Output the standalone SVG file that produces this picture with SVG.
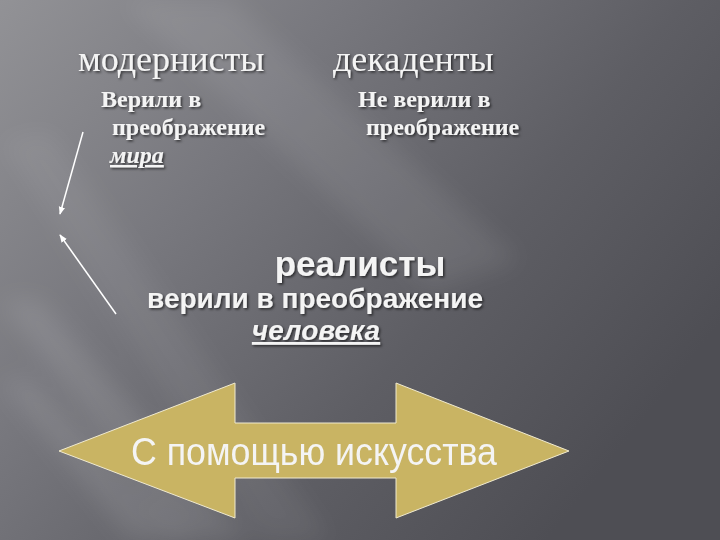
<svg xmlns="http://www.w3.org/2000/svg" width="720" height="540" viewBox="0 0 720 540">
<defs>
<linearGradient id="bg" x1="0" y1="0" x2="1" y2="0.6">
<stop offset="0" stop-color="#929296"/>
<stop offset="0.35" stop-color="#78787e"/>
<stop offset="0.7" stop-color="#5e5e64"/>
<stop offset="1" stop-color="#4e4e54"/>
</linearGradient>
<filter id="blur"><feGaussianBlur stdDeviation="12"/></filter>
<filter id="sh" x="-10%" y="-30%" width="120%" height="160%">
<feDropShadow dx="1.5" dy="1.5" stdDeviation="0.8" flood-color="#000" flood-opacity="0.6"/>
</filter>
<marker id="ah" viewBox="0 0 10 10" refX="9" refY="5" markerWidth="8" markerHeight="8" orient="auto" markerUnits="userSpaceOnUse">
<path d="M0,1 L10,5 L0,9 z" fill="#ffffff"/>
</marker>
<style>
.serif{font-family:"Liberation Serif","Times New Roman",serif;fill:#f4f4f4;}
.sans{font-family:"Liberation Sans",Arial,sans-serif;fill:#f4f4f4;}
.h{font-size:36px;}
.b{font-size:24px;font-weight:bold;}
.conn{stroke:#ffffff;stroke-width:1.5;fill:none;marker-end:url(#ah);}
</style>
</defs>
<rect width="720" height="540" fill="url(#bg)"/>
<g filter="url(#blur)">
<polygon points="120,0 230,0 520,260 430,290" fill="#ffffff" opacity="0.08"/>
<polygon points="0,300 40,300 250,540 180,540" fill="#ffffff" opacity="0.1"/>
<polygon points="0,380 30,380 190,540 130,540" fill="#ffffff" opacity="0.1"/>
<polygon points="0,140 50,130 330,540 260,540" fill="#ffffff" opacity="0.06"/>
</g>
<g id="modernists" filter="url(#sh)">
<text class="serif h" x="78" y="71">модернисты</text>
<text class="serif b" x="101" y="107">Верили в</text>
<text class="serif b" x="112" y="135">преображение</text>
<text class="serif b" x="110" y="163" font-style="italic" text-decoration="underline">мира</text>
</g>
<g id="decadents" filter="url(#sh)">
<text class="serif h" x="333" y="71">декаденты</text>
<text class="serif b" x="358" y="107">Не верили в</text>
<text class="serif b" x="366" y="135">преображение</text>
</g>
<g id="realists" filter="url(#sh)">
<text class="sans" x="360" y="276" text-anchor="middle" font-size="35" font-weight="bold">реалисты</text>
<text class="sans" x="315" y="308" text-anchor="middle" font-size="28" font-weight="bold">верили в преображение</text>
<text class="sans" x="316" y="340" text-anchor="middle" font-size="28" font-weight="bold" font-style="italic" text-decoration="underline">человека</text>
</g>
<g id="connectors">
<line class="conn" x1="83" y1="132" x2="60" y2="214"/>
<line class="conn" x1="116" y1="314" x2="60" y2="235"/>
</g>
<g id="art">
<polygon points="59,451 235,383 235,423 396,423 396,383 569,451 396,518 396,478 235,478 235,518" fill="#c9b463" stroke="#f0ead0" stroke-width="1"/>
<text class="sans" x="131" y="465" font-size="38" textLength="366" lengthAdjust="spacingAndGlyphs">С помощью искусства</text>
</g>
</svg>
